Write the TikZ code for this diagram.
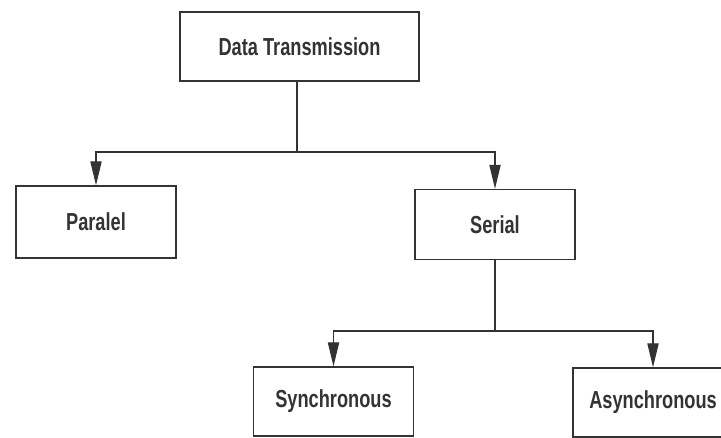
\documentclass[tikz,border=0pt]{standalone}
\usepackage{fontspec}
\newfontfamily\blockfont[FakeStretch=0.74]{Liberation Sans}
\usetikzlibrary{arrows.meta}

\begin{document}
\begin{tikzpicture}[x=0.025cm,y=-0.025cm,
		block/.style={draw=black!80, line width=0.9pt, inner sep=0pt,
		  minimum width=4cm, minimum height=1.75cm,
		  font=\blockfont\bfseries\fontsize{17.5}{20}\selectfont, text=black!80},
		link/.style={draw=black!80, line width=0.9pt},
		down/.style={link, -{Triangle[length=0.6cm,width=0.28cm]}}]
    \useasboundingbox (0,0) rectangle (721,438);
		\node[block, minimum width=5.975cm, minimum height=1.725cm] (data) at (299.5,46.5)
		    {Data Transmission};
		\node[block, minimum height=1.8cm] (paralel) at (96,222)   {Paralel};
		\node[block] (serial) at (495,224.5) {Serial};
		\node[block, minimum height=1.725cm] (sync)  at (333.5,401.5) {Synchronous};
		\node[block, minimum height=1.725cm] (async) at (653,402.5) {Asynchronous};
		\coordinate (split1) at (297,152);
		\coordinate (split2) at (495,331);
		\draw[link]  (data.south -| split1) -- (split1);
		\draw[down]  (split1) -| (paralel.north);
		\draw[down]  (split1) -| (serial.north);
		\draw[link]  (serial) -- (split2);
		\draw[down]  (split2) -| (sync.north);
		\draw[down]  (split2) -| (async.north);
\end{tikzpicture}
\end{document}
